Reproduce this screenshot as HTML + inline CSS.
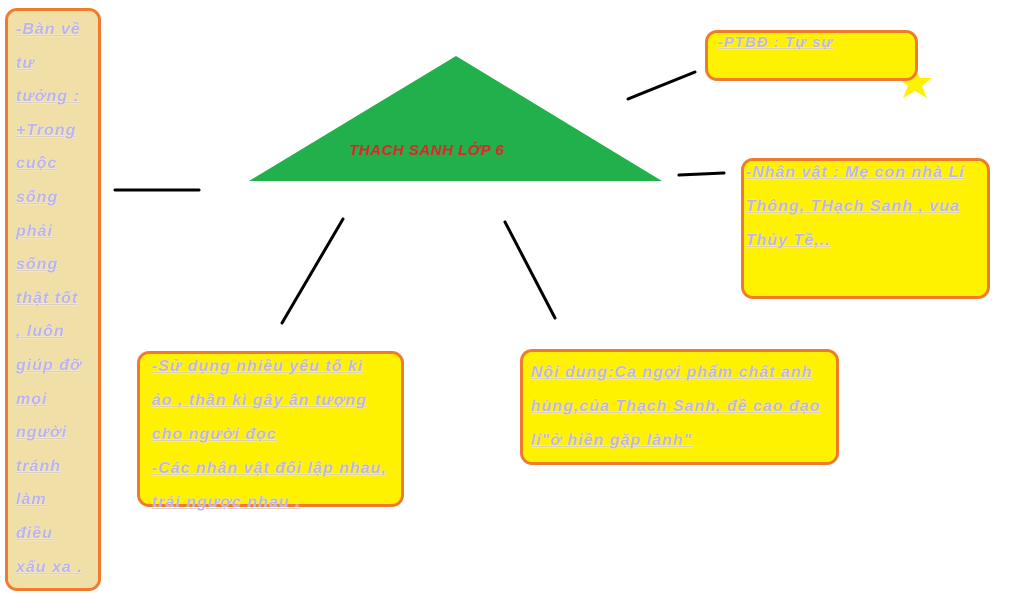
<!DOCTYPE html>
<html><head><meta charset="utf-8"><style>
body{margin:0;width:1024px;height:614px;background:#fff;position:relative;overflow:hidden;font-family:"Liberation Sans","DejaVu Sans",sans-serif}
.b{position:absolute;box-sizing:border-box;border:3px solid #f07b2e;border-radius:12px;background:#fff200}
.t{position:absolute;color:#bcb2ec;font-weight:bold;font-style:italic;font-size:16px;letter-spacing:1px;white-space:nowrap;text-shadow:0 0 1px #fff;text-decoration:underline;text-decoration-color:#d8d0c0;text-decoration-thickness:1px}
</style></head><body>
<svg width="1024" height="614" style="position:absolute;left:0;top:0">
<polygon points="456,56 249,181 662,181" fill="#22b04c"/>
<g stroke="#000" stroke-width="3" stroke-linecap="round">
<line x1="115" y1="190" x2="199" y2="190"/>
<line x1="628" y1="99" x2="695" y2="72"/>
<line x1="679" y1="175" x2="724" y2="173"/>
<line x1="343" y1="219" x2="282" y2="323"/>
<line x1="505" y1="222" x2="555" y2="318"/>
</g>
<polygon points="915,68 920,78 932,78 922,86 927,98 915,91 903,98 908,86 898,78 910,78" fill="#fff200"/>
</svg>
<div style="position:absolute;left:349px;top:142px;color:#e8202a;font-weight:bold;font-style:italic;font-size:15px;letter-spacing:0.5px">THACH SANH LỚP 6</div>
<div class="b" style="left:5px;top:8px;width:96px;height:583px;background:#f0e0a8"></div>
<div class="t" style="left:16px;top:13px;line-height:33.6px">-Bàn về<br>tư<br>tưởng :<br>+Trong<br>cuộc<br>sống<br>phải<br>sống<br>thật tốt<br>, luôn<br>giúp đỡ<br>mọi<br>người<br>tránh<br>làm<br>điều<br>xấu xa .</div>
<div class="b" style="left:705px;top:30px;width:213px;height:51px"></div>
<div class="t" style="left:718px;top:34px;font-size:15px">-PTBĐ : Tự sự</div>
<div class="b" style="left:741px;top:158px;width:249px;height:141px"></div>
<div class="t" style="left:746px;top:156px;line-height:34px">-Nhân vật : Mẹ con nhà Lí<br>Thông, THạch Sanh , vua<br>Thủy Tề,..</div>
<div class="b" style="left:137px;top:351px;width:267px;height:156px"></div>
<div class="t" style="left:152px;top:350px;line-height:34px">-Sử dụng nhiều yếu tố kì<br>ảo , thần kì gây ấn tượng<br>cho người đọc<br>-Các nhân vật đối lập nhau,<br>trái ngược nhau .</div>
<div class="b" style="left:520px;top:349px;width:319px;height:116px"></div>
<div class="t" style="left:531px;top:356px;line-height:34px">Nội dung:Ca ngợi phẩm chất anh<br>hùng,của Thạch Sanh, đề cao đạo<br>lí"ở hiền gặp lành"</div>
</body></html>
